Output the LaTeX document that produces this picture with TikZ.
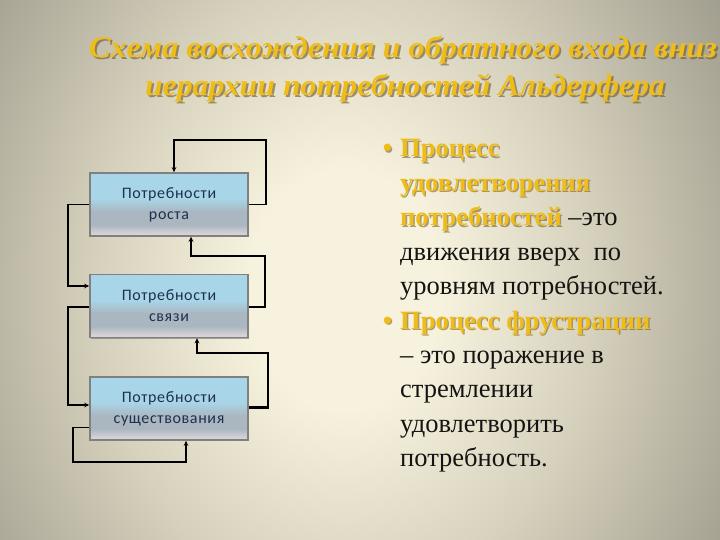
\documentclass[tikz,border=0pt]{standalone}
\usepackage{fontspec}
\setmainfont{Liberation Serif}
\newfontfamily\boxfont{Carlito}[LetterSpace=4]
\usetikzlibrary{arrows.meta,shadows}
\definecolor{bgc}{RGB}{246,242,222}
\definecolor{bgm}{RGB}{214,209,188}
\definecolor{bge}{RGB}{150,148,134}
\definecolor{gold}{RGB}{240,188,22}
\definecolor{goldsh}{RGB}{105,85,45}
\definecolor{txt}{RGB}{22,20,18}
\definecolor{boxtop}{RGB}{168,214,232}
\definecolor{boxmid}{RGB}{170,182,192}
\definecolor{boxbot}{RGB}{214,210,214}
\definecolor{boxtext}{RGB}{30,48,78}
\definecolor{boxline}{RGB}{128,128,128}
\pgfdeclareradialshading{bgsh}{\pgfpoint{0bp}{0bp}}{color(0bp)=(bgc); color(5bp)=(bgc); color(13bp)=(bgm); color(25bp)=(bge); color(50bp)=(bge)}
\pgfdeclareverticalshading{boxsh}{100bp}{color(0bp)=(boxbot); color(27bp)=(boxbot); color(34bp)=(boxmid); color(44bp)=(boxmid); color(55bp)=(boxtop); color(100bp)=(boxtop)}
\newif\ifshadowpass
\newcommand\gld[1]{\ifshadowpass\textcolor{goldsh}{\bfseries #1}\else\textcolor{gold}{\bfseries #1}\fi}
\newcommand\blk[1]{\ifshadowpass\phantom{#1}\else\textcolor{txt}{#1}\fi}
\newcommand\rline[3]{%
  \node[rtext,opacity=0.55,name=#1s] at (401.3,{#2+1.3}) {\shadowpasstrue #3};
  \node[rtext,name=#1] at (400,#2) {\shadowpassfalse #3};}
\tikzset{
  nbox/.style={draw=boxline, line width=1.6pt, shading=boxsh, minimum width=158pt, minimum height=63pt,
    inner sep=0pt, align=center, text=boxtext, font=\boxfont\fontsize{16}{21}\selectfont,
    drop shadow={shadow xshift=1.2pt, shadow yshift=-1.2pt, opacity=0.45, fill=black!70}},
  thinarr/.style={line width=1.2pt, -{Stealth[length=5pt,width=4.5pt]}},
  thickarr/.style={line width=2.4pt, -{Stealth[length=5pt,width=5pt]}},
  rtext/.style={anchor=base west, inner sep=0pt, font=\fontsize{26.5}{30}\selectfont},
  ttl/.style={anchor=base, inner sep=0pt, font=\bfseries\itshape\fontsize{30}{34}\selectfont}
}
\begin{document}
\begin{tikzpicture}[x=1pt,y=-1pt]
\useasboundingbox (0,0) rectangle (720,540);
\fill[bge] (0,0) rectangle (720,540);
\begin{scope}
\clip (0,0) rectangle (720,540);
\shade[shading=bgsh] (345,290) ellipse (480 and 600);
\end{scope}
% title
\node[ttl,text=goldsh,opacity=0.6] (t1s) at (405,60) {\resizebox{628pt}{\height}{Схема восхождения и обратного входа вниз}};
\node[ttl,text=gold] (t1) at (403,58) {\resizebox{628pt}{\height}{Схема восхождения и обратного входа вниз}};
\node[ttl,text=goldsh,opacity=0.6] (t2s) at (407,98) {\resizebox{520pt}{\height}{иерархии потребностей Альдерфера}};
\node[ttl,text=gold] (t2) at (405,96) {\resizebox{520pt}{\height}{иерархии потребностей Альдерфера}};
% boxes
\node[nbox] (b1) at (169,204.5) {Потребности\\роста};
\node[nbox] (b2) at (169,306) {Потребности\\связи};
\node[nbox] (b3) at (169,408.5) {Потребности\\существования};
\coordinate (c1) at (266,140);
\coordinate (c2) at (265,256);
\coordinate (c3) at (68,286);
\coordinate (c4) at (68,405);
\coordinate (c5) at (268,353);
\coordinate (c6) at (73,462);
\draw[thinarr] (b1.east) -| (c1) -| ([xshift=5pt]b1.north);
\draw[thickarr] ([yshift=-1pt]b2.east) -| (c2) -| ([xshift=22pt]b1.south);
\draw[thinarr] (b1.west) -| (c3) -- (c3 -| b2.west);
\draw[thinarr] ([yshift=-1pt]b2.west) -| (c4) -- (c4 -| b3.west);
\draw[thickarr] ([yshift=1pt]b3.east) -| (c5) -| ([xshift=28pt]b2.south);
\draw[thinarr] ([yshift=-19pt]b3.west) -| (c6) -| ([xshift=17pt]b3.south);
% right text
\rline{r1}{157}{\llap{\gld{•}\hspace{8pt}}\gld{Процесс}}
\rline{r2}{191.4}{\gld{удовлетворения}}
\rline{r3}{225.8}{\gld{потребностей} \blk{–это}}
\rline{r4}{260.2}{\blk{движения вверх\ \ по}}
\rline{r5}{294.6}{\blk{уровням потребностей.}}
\rline{r6}{329}{\llap{\gld{•}\hspace{8pt}}\gld{Процесс фрустрации}}
\rline{r7}{363.4}{\blk{– это поражение в}}
\rline{r8}{397.8}{\blk{стремлении}}
\rline{r9}{432.2}{\blk{удовлетворить}}
\rline{r10}{466.6}{\blk{потребность.}}
\end{tikzpicture}
\end{document}
